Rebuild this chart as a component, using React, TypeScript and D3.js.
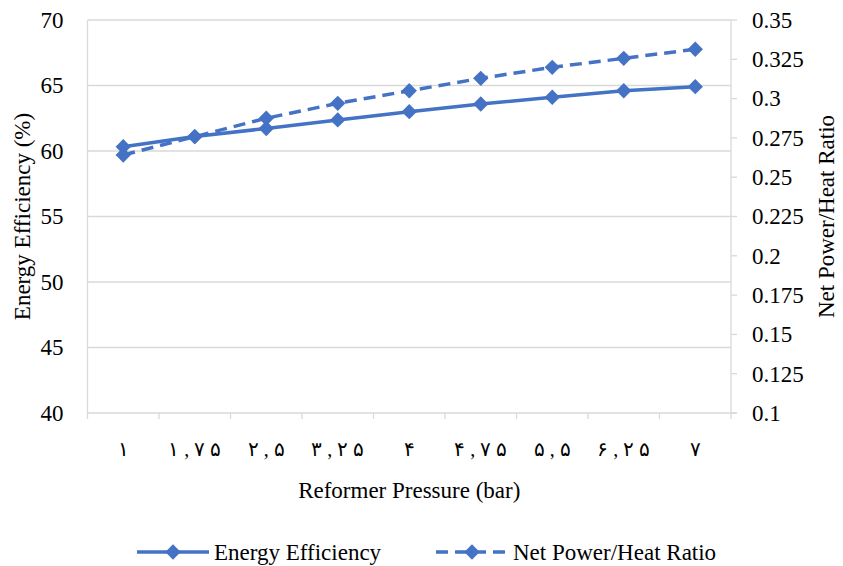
import React from "react";
import * as d3 from "d3";

// reformer pressure labels (Persian digits as in the original)
const pressureLabels = ["۱", "۱,۷۵", "۲,۵", "۳,۲۵", "۴", "۴,۷۵", "۵,۵", "۶,۲۵", "۷"];
const energyEfficiency = [60.33, 61.1, 61.72, 62.37, 63.0, 63.59, 64.1, 64.6, 64.91];
const netPowerHeatRatio = [0.2641, 0.2758, 0.2875, 0.297, 0.305, 0.3129, 0.3199, 0.3256, 0.3314];
const leftTicks = [40, 45, 50, 55, 60, 65, 70];
const rightTicks = [0.1, 0.125, 0.15, 0.175, 0.2, 0.225, 0.25, 0.275, 0.3, 0.325, 0.35];
const seriesNames = ["Energy Efficiency", "Net Power/Heat Ratio"];

const BLUE = "#4472C4";
const GRID = "#d9d9d9";
const FONT = "Liberation Serif";
const FS = 23;

const width = 843, height = 566;
const plot = { left: 87.5, right: 731, top: 20, bottom: 413 };

const App = () => {
    const x = d3.scaleBand<string>().domain(pressureLabels).range([plot.left, plot.right]);
    const yL = d3.scaleLinear().domain([40, 70]).range([plot.bottom, plot.top]);
    const yR = d3.scaleLinear().domain([0.1, 0.35]).range([plot.bottom, plot.top]);
    const cx = (i: number) => (x(pressureLabels[i]) as number) + x.bandwidth() / 2;

    const lineL = d3.line<number>().x((_, i) => cx(i)).y(d => yL(d));
    const lineR = d3.line<number>().x((_, i) => cx(i)).y(d => yR(d));
    const diamond = d3.symbol().type(d3.symbolDiamond2).size(150)() as string;

    const midY = (plot.top + plot.bottom) / 2;
    const legendY = 552;
    const legendItems = [
        { name: seriesNames[0], x0: 137, dash: undefined },
        { name: seriesNames[1], x0: 436, dash: "12,7" },
    ];

    return (
        <svg width={width} height={height} style={{ position: "absolute", left: 0, top: 0, display: "block" }}>
            <rect width={width} height={height} fill="#fff" />

            {/* gridlines */}
            {leftTicks.slice(1).map(t => (
                <line key={t} x1={plot.left} x2={plot.right} y1={yL(t)} y2={yL(t)} stroke={GRID} strokeWidth={1.3} />
            ))}
            <line x1={plot.left} x2={plot.left} y1={plot.top} y2={plot.bottom} stroke={GRID} strokeWidth={1.3} />

            {/* x axis */}
            <line x1={plot.left} x2={plot.right + 6} y1={plot.bottom} y2={plot.bottom} stroke={GRID} strokeWidth={1.3} />
            {[...pressureLabels.map(d => x(d) as number), plot.right].map((bx, i) => (
                <line key={i} x1={bx} x2={bx} y1={plot.bottom} y2={plot.bottom + 6} stroke={GRID} strokeWidth={1.3} />
            ))}
            {pressureLabels.map((d, i) => (
                <text key={d} x={cx(i)} y={449} dy="0.34em" textAnchor="middle" fontFamily={FONT} fontSize={20}>
                    {Array.from(d).map((c, j) => (
                        <tspan key={j} dx={j ? 5 : 0}>{c}</tspan>
                    ))}
                </text>
            ))}

            {/* right axis */}
            <line x1={plot.right} x2={plot.right} y1={plot.top} y2={plot.bottom} stroke={GRID} strokeWidth={1.3} />
            {rightTicks.map(t => (
                <g key={t} transform={`translate(0,${yR(t)})`}>
                    <line x1={plot.right} x2={plot.right + 6} stroke={GRID} strokeWidth={1.3} />
                    <text x={plot.right + 21} dy="0.34em" fontFamily={FONT} fontSize={FS}>{String(t)}</text>
                </g>
            ))}

            {/* left axis labels */}
            {leftTicks.map(t => (
                <text key={t} x={plot.left - 24} y={yL(t)} dy="0.34em" textAnchor="end" fontFamily={FONT} fontSize={FS}>{t}</text>
            ))}

            {/* axis titles */}
            <text transform={`translate(22,${midY}) rotate(-90)`} textAnchor="middle" dy="0.34em" fontFamily={FONT} fontSize={FS}>
                Energy Efficiency (%)
            </text>
            <text transform={`translate(826,${midY}) rotate(-90)`} textAnchor="middle" dy="0.34em" fontFamily={FONT} fontSize={FS}>
                Net Power/Heat Ratio
            </text>
            <text x={(plot.left + plot.right) / 2} y={490} textAnchor="middle" dy="0.34em" fontFamily={FONT} fontSize={FS}>
                Reformer Pressure (bar)
            </text>

            {/* series */}
            <path d={lineL(energyEfficiency) as string} fill="none" stroke={BLUE} strokeWidth={3.5} strokeLinejoin="round" />
            {energyEfficiency.map((d, i) => (
                <path key={i} d={diamond} transform={`translate(${cx(i)},${yL(d)})`} fill={BLUE} />
            ))}
            <path d={lineR(netPowerHeatRatio) as string} fill="none" stroke={BLUE} strokeWidth={3.5} strokeDasharray="12,7" />
            {netPowerHeatRatio.map((d, i) => (
                <path key={i} d={diamond} transform={`translate(${cx(i)},${yR(d)})`} fill={BLUE} />
            ))}

            {/* legend */}
            {legendItems.map(item => (
                <g key={item.name}>
                    <line x1={item.x0} x2={item.x0 + 72} y1={legendY} y2={legendY} stroke={BLUE} strokeWidth={3.5} strokeDasharray={item.dash} />
                    <path d={diamond} transform={`translate(${item.x0 + 36},${legendY})`} fill={BLUE} />
                    <text x={item.x0 + 77} y={legendY} dy="0.34em" fontFamily={FONT} fontSize={FS}>{item.name}</text>
                </g>
            ))}
        </svg>
    );
};

export default App;
